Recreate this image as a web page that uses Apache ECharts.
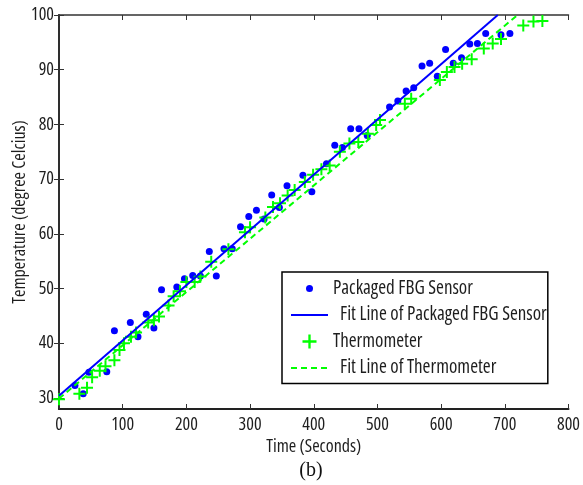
<!DOCTYPE html>
<html>
<head>
<meta charset="utf-8">
<script src="https://cdn.jsdelivr.net/npm/echarts@6/dist/echarts.min.js"></script>
<style>
html, body { margin: 0; padding: 0; background: #fff; }
#chart { width: 583px; height: 485px; }
</style>
</head>
<body>
<div id="chart"></div>
<script>
// ---- data ----
var fbgTime = [25, 38, 47, 75, 87, 112, 124, 137, 149, 161, 185, 197, 210, 222, 236, 247, 259, 272, 285, 298, 310, 322, 334, 346, 358, 383, 397, 420, 433, 445, 458, 471, 484, 519, 532, 545, 557, 570, 582, 594, 607, 619, 632, 645, 657, 670, 694, 708];
var fbgTemp = [32.3, 30.8, 34.7, 34.8, 42.3, 43.8, 41.2, 45.3, 42.8, 49.8, 50.3, 51.8, 52.4, 52.3, 56.8, 52.3, 57.3, 57.3, 61.3, 63.2, 64.3, 62.7, 67.1, 64.8, 68.8, 70.7, 67.7, 72.8, 76.2, 75.8, 79.2, 79.2, 78.0, 83.2, 84.3, 86.1, 86.7, 90.7, 91.2, 88.8, 93.7, 91.2, 92.2, 94.7, 94.8, 96.6, 96.4, 96.6];

var thermoTime = [0, 32, 44, 52, 64, 73, 87, 95, 102, 113, 121, 140, 149, 157, 172, 180, 190, 200, 213, 222, 239, 266, 292, 300, 324, 336, 347, 359, 370, 386, 399, 412, 425, 441, 456, 470, 485, 498, 504, 543, 553, 598, 609, 621, 633, 648, 667, 681, 694, 729, 745, 759];
var thermoTemp = [29.8, 30.8, 31.9, 33.8, 35.0, 35.8, 36.9, 38.8, 40.0, 41.2, 42.0, 43.8, 44.2, 44.9, 46.9, 48.6, 49.5, 51.2, 51.2, 52.2, 54.9, 57.2, 60.3, 61.2, 63.0, 64.9, 65.6, 67.0, 68.0, 69.5, 70.8, 71.8, 72.5, 75.0, 76.5, 76.8, 78.3, 79.9, 80.8, 83.8, 84.7, 88.1, 89.6, 90.5, 91.1, 91.9, 93.9, 94.8, 95.6, 98.1, 98.8, 98.9];

var fitFbgTime = [0, 689];
var fitFbgTemp = [30.4, 100];
var fitThermoTime = [0, 720];
var fitThermoTemp = [29.9, 100];

var xTicks = [0, 100, 200, 300, 400, 500, 600, 700, 800];
var yTicks = [30, 40, 50, 60, 70, 80, 90, 100];

var seriesNames = ['Packaged FBG Sensor', 'Fit Line of Packaged FBG Sensor', 'Thermometer', 'Fit Line of Thermometer'];
var xName = 'Time (Seconds)';
var yName = 'Temperature (degree Celcius)';
var caption = '(b)';

// ---- helpers ----
function zip(a, b) { return a.map(function (v, i) { return [v, b[i]]; }); }
var FONT = '"Open Sans", "DejaVu Sans Condensed", sans-serif';
var STRETCH = 'condensed';   // goes into the canvas font shorthand
var TXT = '#1e1e1e';
var BLUE = '#0000ff';
var GREEN = '#00ff00';
var PLUS = 'path://M0,5H12V7H0Z M5,0H7V12H5Z';
var DOT_ICON = 'path://M0,0M14,14M3.5,7A3.5,3.5,0,1,1,10.5,7A3.5,3.5,0,1,1,3.5,7Z';

function ts(size, extra) {
  var o = { fontFamily: FONT, fontStyle: 'normal', fontWeight: STRETCH, fontSize: size, color: TXT };
  if (extra) for (var k in extra) o[k] = extra[k];
  return o;
}

var chart = echarts.init(document.getElementById('chart'), null, { renderer: 'canvas' });

var option = {
  animation: false,
  backgroundColor: '#fff',
  grid: { left: 59, top: 15, right: 14.5, bottom: 76, containLabel: false, outerBoundsMode: 'none' },
  xAxis: [{
    type: 'value', position: 'bottom', min: 0, max: 800, interval: 100,
    name: xName, nameLocation: 'middle', nameGap: 29, nameMoveOverlap: false,
    nameTextStyle: ts(18),
    axisLine: { lineStyle: { color: '#222', width: 2 } },
    axisTick: { inside: true, length: 5, lineStyle: { color: '#333', width: 1 } },
    axisLabel: ts(18, { margin: 7, customValues: xTicks }),
    splitLine: { show: false }
  }, {
    type: 'value', position: 'top', min: 0, max: 800, interval: 100,
    axisLine: { lineStyle: { color: '#333', width: 1.5 } },
    axisTick: { inside: true, length: 5, lineStyle: { color: '#333', width: 1 } },
    axisLabel: { show: false },
    splitLine: { show: false }
  }],
  yAxis: [{
    type: 'value', position: 'left', min: 28, max: 100,
    name: yName, nameLocation: 'middle', nameGap: 30, nameRotate: 90, nameMoveOverlap: false,
    nameTextStyle: ts(18),
    axisLine: { lineStyle: { color: '#222', width: 2 } },
    axisTick: { inside: true, length: 5, customValues: yTicks, lineStyle: { color: '#333', width: 1 } },
    axisLabel: ts(18, { margin: 5, customValues: yTicks }),
    splitLine: { show: false }
  }, {
    type: 'value', position: 'right', min: 28, max: 100,
    axisLine: { lineStyle: { color: '#333', width: 1.5 } },
    axisTick: { inside: true, length: 5, customValues: yTicks, lineStyle: { color: '#333', width: 1 } },
    axisLabel: { show: false },
    splitLine: { show: false }
  }],
  legend: {
    orient: 'vertical', left: 282, top: 272,
    itemWidth: 37, itemHeight: 14, itemGap: 7.5,
    padding: [7, 1, 6, 8],
    borderColor: '#000', borderWidth: 1.5, backgroundColor: '#fff',
    selectedMode: false,
    textStyle: ts(19, { lineHeight: 18,
      rich: { f: ts(19, { lineHeight: 18, padding: [0, 0, 0, 7] }) } }),
    formatter: function (name) { return name.indexOf('Fit') === 0 ? '{f|' + name + '}' : name; },
    data: [
      { name: seriesNames[0], icon: DOT_ICON },
      { name: seriesNames[1], itemStyle: { opacity: 0 } },
      { name: seriesNames[2], icon: PLUS },
      { name: seriesNames[3], itemStyle: { opacity: 0 } }
    ]
  },
  graphic: [{
    type: 'text', x: 311, y: 471,
    style: { text: caption, font: '20px "Liberation Serif", "Times New Roman", serif', fill: '#111',
      textAlign: 'center', textVerticalAlign: 'middle' }
  }],
  series: [{
    name: seriesNames[0], type: 'scatter', xAxisIndex: 0, yAxisIndex: 0,
    data: zip(fbgTime, fbgTemp), symbol: 'circle', symbolSize: 7,
    itemStyle: { color: BLUE, opacity: 1 }
  }, {
    name: seriesNames[1], type: 'line', xAxisIndex: 0, yAxisIndex: 0,
    data: zip(fitFbgTime, fitFbgTemp), symbol: 'none', showSymbol: false,
    lineStyle: { color: BLUE, width: 2 }, itemStyle: { color: BLUE }
  }, {
    name: seriesNames[2], type: 'scatter', xAxisIndex: 0, yAxisIndex: 0,
    data: zip(thermoTime, thermoTemp), symbol: PLUS, symbolSize: 12,
    itemStyle: { color: GREEN, opacity: 1 }
  }, {
    name: seriesNames[3], type: 'line', xAxisIndex: 0, yAxisIndex: 0,
    data: zip(fitThermoTime, fitThermoTemp), symbol: 'none', showSymbol: false,
    lineStyle: { color: GREEN, width: 2, type: [6, 4] }, itemStyle: { color: GREEN }
  }]
};
chart.setOption(option);
</script>
</body>
</html>
